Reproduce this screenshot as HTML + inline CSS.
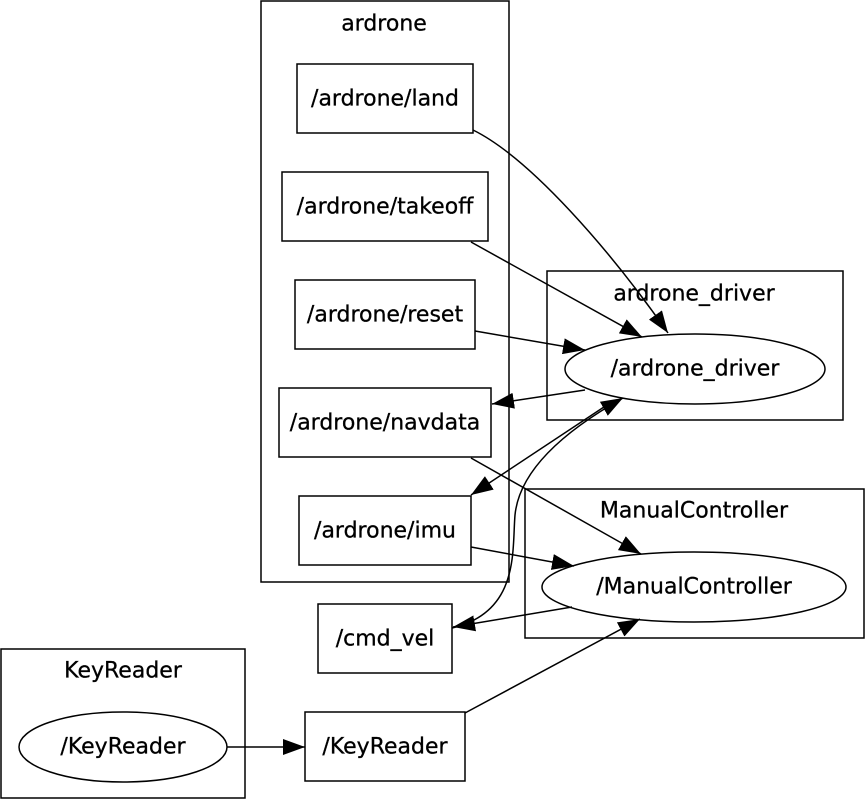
<!DOCTYPE html>
<html><head><meta charset="utf-8"><style>
html,body{margin:0;padding:0;background:#fff;}
svg{display:block;}
text{font-family:"DejaVu Sans","Liberation Sans",sans-serif;font-size:22px;fill:#000;text-anchor:middle;dominant-baseline:central;stroke:#000;stroke-width:0.3;}
</style></head><body>
<svg width="866" height="800" viewBox="0 0 866 800" xmlns="http://www.w3.org/2000/svg">
<defs>
<marker id="a" markerUnits="userSpaceOnUse" markerWidth="24" markerHeight="16" refX="22" refY="8" orient="auto">
<path d="M0,0 L22,8 L0,16 Z" fill="#000"/>
</marker>
</defs>
<g fill="none" stroke="#000" stroke-width="1.5">
<rect x="261" y="1" width="248" height="581"/>
<rect x="547" y="271" width="296" height="149"/>
<rect x="525" y="489" width="339" height="149"/>
<rect x="1" y="649" width="244" height="149"/>
<rect x="297" y="64" width="176" height="69"/>
<rect x="282" y="172" width="206" height="69"/>
<rect x="295" y="280" width="180" height="69"/>
<rect x="279" y="388" width="212" height="69"/>
<rect x="299" y="496" width="172" height="69"/>
<rect x="318" y="604" width="134" height="69"/>
<rect x="305" y="712" width="160" height="69"/>
<ellipse cx="695" cy="369" rx="130" ry="35"/>
<ellipse cx="694" cy="587" rx="152" ry="35"/>
<ellipse cx="123" cy="747" rx="104" ry="35"/>
</g>
<g fill="none" stroke="#000" stroke-width="1.5" marker-end="url(#a)">
<path d="M473,130 C530,158 610,250 668,333"/>
<path d="M471,242 L642,337"/>
<path d="M475,331 L585,350"/>
<path d="M585,390 L492,404"/>
<path d="M613,401 L471,495"/>
<path d="M471,458 L641,554"/>
<path d="M471,547 L574,566"/>
<path d="M572,607 L453,627"/>
<path d="M452,628 C520,612 512,550 515,515 C520,465 575,425 623,398"/>
<path d="M227,747 L305,747"/>
<path d="M465,713 L640,619"/>
</g>
<text x="384" y="24">ardrone</text>
<text x="694" y="294">ardrone_driver</text>
<text x="694" y="511">ManualController</text>
<text x="123" y="671">KeyReader</text>
<text x="385" y="99">/ardrone/land</text>
<text x="385" y="207">/ardrone/takeoff</text>
<text x="385" y="315">/ardrone/reset</text>
<text x="385" y="423">/ardrone/navdata</text>
<text x="385" y="531">/ardrone/imu</text>
<text x="385" y="639">/cmd_vel</text>
<text x="385" y="747">/KeyReader</text>
<text x="695" y="369">/ardrone_driver</text>
<text x="694" y="587">/ManualController</text>
<text x="123" y="747">/KeyReader</text>
</svg>
</body></html>
